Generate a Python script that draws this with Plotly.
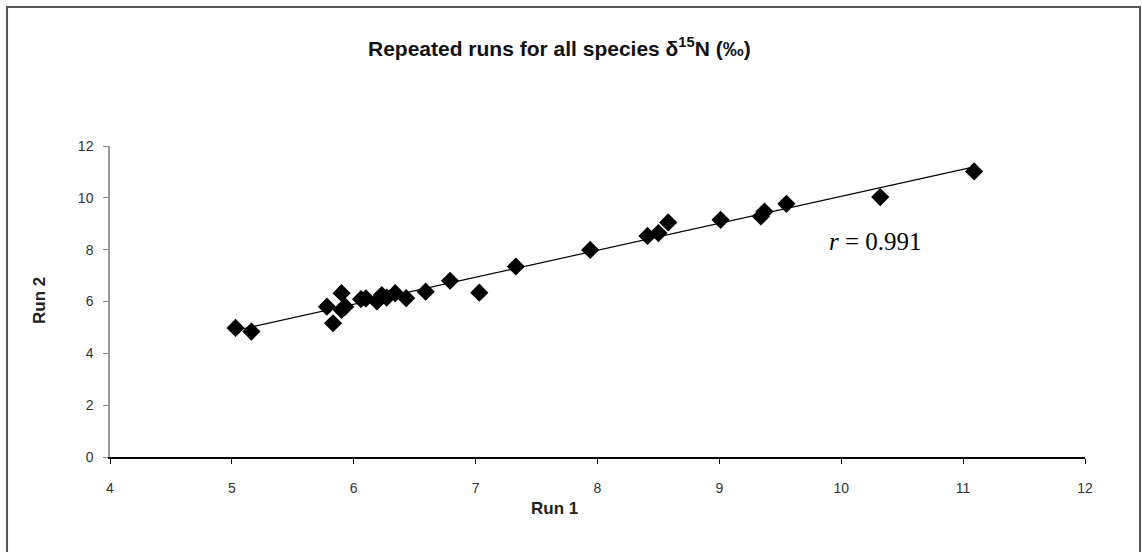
import numpy as np
import plotly.graph_objects as go

run1 = [5.03, 5.16, 5.78, 5.83, 5.90, 5.90, 5.93, 6.06, 6.10, 6.19, 6.23, 6.27, 6.34, 6.43, 6.59,
        6.79, 7.03, 7.33, 7.94, 8.41, 8.50, 8.58, 9.01, 9.34, 9.37, 9.55, 10.32, 11.09]
run2 = [4.98, 4.84, 5.80, 5.16, 6.32, 5.68, 5.80, 6.09, 6.12, 6.00, 6.25, 6.15, 6.32, 6.13, 6.38,
        6.80, 6.34, 7.35, 7.99, 8.53, 8.64, 9.05, 9.15, 9.28, 9.47, 9.77, 10.03, 11.02]

x_ticks = [4, 5, 6, 7, 8, 9, 10, 11, 12]
y_ticks = [0, 2, 4, 6, 8, 10, 12]
r_label = "<i>r</i> = 0.991"

slope, intercept = np.polyfit(run1, run2, 1)
x_fit = np.array([min(run1), max(run1)])
y_fit = slope * x_fit + intercept

fig = go.Figure()
fig.add_trace(go.Scatter(x=x_fit, y=y_fit, mode="lines",
                         line=dict(color="black", width=1.2), hoverinfo="skip", showlegend=False))
fig.add_trace(go.Scatter(x=run1, y=run2, mode="markers",
                         marker=dict(symbol="diamond", size=14, color="black"), showlegend=False))

axis_font = dict(family="Arial, Liberation Sans", size=14, color="#333333")
fig.update_xaxes(range=[4, 12], tickvals=x_ticks, ticks="outside", ticklen=5, tickcolor="black",
                 showline=True, linecolor="black", linewidth=1.5, showgrid=False, zeroline=False,
                 tickfont=axis_font, ticklabelstandoff=12)
fig.update_yaxes(range=[0, 12], tickvals=y_ticks, ticks="outside", ticklen=5, tickcolor="#888888",
                 showline=True, linecolor="#999999", linewidth=1.5, showgrid=False, zeroline=False,
                 tickfont=axis_font, ticklabelstandoff=7)

fig.add_shape(type="rect", xref="paper", yref="paper", x0=-0.1056, x1=1.0564, y0=-1.0, y1=1.447,
              line=dict(color="#555555", width=2), layer="below")

fig.add_annotation(text="<b>Repeated runs for all species δ<sup>15</sup>N (‰)</b>", xref="paper", yref="paper",
                   x=0.4615, y=1.318, xanchor="center", yanchor="middle", showarrow=False,
                   font=dict(family="Arial, Liberation Sans", size=21, color="#111111"))
fig.add_annotation(text="<b>Run 1</b>", xref="paper", yref="paper", x=0.456, y=-0.164,
                   xanchor="center", yanchor="middle", showarrow=False,
                   font=dict(family="Arial, Liberation Sans", size=17, color="#222222"))
fig.add_annotation(text="<b>Run 2</b>", xref="paper", yref="paper", x=-0.0718, y=0.505,
                   xanchor="center", yanchor="middle", showarrow=False,
                   textangle=-90, font=dict(family="Arial, Liberation Sans", size=17, color="#222222"))
fig.add_annotation(text=r_label, x=10.28, y=8.3, xref="x", yref="y", showarrow=False,
                   xanchor="center", yanchor="middle",
                   font=dict(family="Times New Roman, Liberation Serif", size=25, color="black"))

fig.update_layout(width=1142, height=552, margin=dict(l=110, r=57, t=146, b=95),
                  plot_bgcolor="white", paper_bgcolor="white")
fig.write_html("out.html")
